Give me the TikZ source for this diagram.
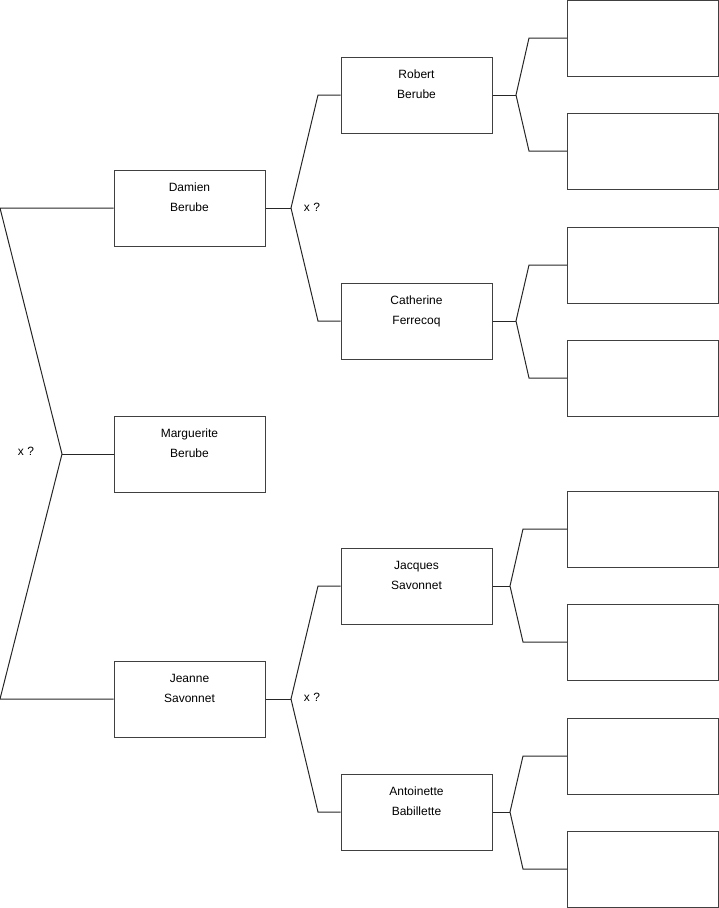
\documentclass[tikz,border=0pt]{standalone}
\usepackage{fontspec}
\setmainfont{Liberation Sans}
\begin{document}
\begin{tikzpicture}[x=1pt,y=-1pt,
  box/.style={draw=black!75,line width=1pt,rectangle,minimum width=151pt,minimum height=76pt,inner sep=0pt},
  pname/.style={font=\fontsize{12}{20}\selectfont,align=center,anchor=north,inner sep=0pt},
  link/.style={draw=black!85,line width=1pt},
  xq/.style={font=\fontsize{12}{14}\selectfont,inner sep=0pt}]
\useasboundingbox (0,0) rectangle (719,908);
% generation 1
\node[box] (dam) at (189.5,208) {};
\node[box] (mar) at (189.5,454) {};
\node[box] (jea) at (189.5,699) {};
% generation 2
\node[box] (rob) at (416.5,95) {};
\node[box] (cat) at (416.5,321) {};
\node[box] (jac) at (416.5,586) {};
\node[box] (ant) at (416.5,812) {};
% generation 3
\node[box] (e1) at (643,38) {};
\node[box] (e2) at (643,151) {};
\node[box] (e3) at (643,265) {};
\node[box] (e4) at (643,378) {};
\node[box] (e5) at (643,529) {};
\node[box] (e6) at (643,642) {};
\node[box] (e7) at (643,756) {};
\node[box] (e8) at (643,869) {};
% names
\node[pname] (tdam) at ([yshift=-13.5pt]dam.north) {Damien\\Berube};
\node[pname] (tmar) at ([yshift=-13.5pt]mar.north) {Marguerite\\Berube};
\node[pname] (tjea) at ([yshift=-13.5pt]jea.north) {Jeanne\\Savonnet};
\node[pname] (trob) at ([yshift=-13.5pt]rob.north) {Robert\\Berube};
\node[pname] (tcat) at ([yshift=-13.5pt]cat.north) {Catherine\\Ferrecoq};
\node[pname] (tjac) at ([yshift=-13.5pt]jac.north) {Jacques\\Savonnet};
\node[pname] (tant) at ([yshift=-13.5pt]ant.north) {Antoinette\\Babillette};
% junction coordinates
\coordinate (c0t) at (0,208);
\coordinate (c0m) at (62,454);
\coordinate (c0b) at (0,699);
\coordinate (jd) at (291,208);
\coordinate (jdt) at (318,95);
\coordinate (jdb) at (318,321);
\coordinate (jj) at (291,699);
\coordinate (jjt) at (318,586);
\coordinate (jjb) at (318,812);
\coordinate (jr) at (516,95);
\coordinate (jrt) at (529,38);
\coordinate (jrb) at (529,151);
\coordinate (jc) at (516,321);
\coordinate (jct) at (529,265);
\coordinate (jcb) at (529,378);
\coordinate (ja) at (510,586);
\coordinate (jat) at (523,529);
\coordinate (jab) at (523,642);
\coordinate (jb) at (510,812);
\coordinate (jbt) at (523,756);
\coordinate (jbb) at (523,869);
% connectors
\draw[link] (dam.west) -- (c0t) -- (c0m) -- (c0b) -- (jea.west);
\draw[link] (c0m) -- (mar.west);
\draw[link] (dam.east) -- (jd);
\draw[link] (rob.west) -- (jdt) -- (jd) -- (jdb) -- (cat.west);
\draw[link] (jea.east) -- (jj);
\draw[link] (jac.west) -- (jjt) -- (jj) -- (jjb) -- (ant.west);
\draw[link] (rob.east) -- (jr);
\draw[link] (e1.west) -- (jrt) -- (jr) -- (jrb) -- (e2.west);
\draw[link] (cat.east) -- (jc);
\draw[link] (e3.west) -- (jct) -- (jc) -- (jcb) -- (e4.west);
\draw[link] (jac.east) -- (ja);
\draw[link] (e5.west) -- (jat) -- (ja) -- (jab) -- (e6.west);
\draw[link] (ant.east) -- (jb);
\draw[link] (e7.west) -- (jbt) -- (jb) -- (jbb) -- (e8.west);
% marriage marks
\node[xq] (x1) at (26,451) {x ?};
\node[xq] (x2) at (312,207) {x ?};
\node[xq] (x3) at (312,697) {x ?};
\end{tikzpicture}
\end{document}
